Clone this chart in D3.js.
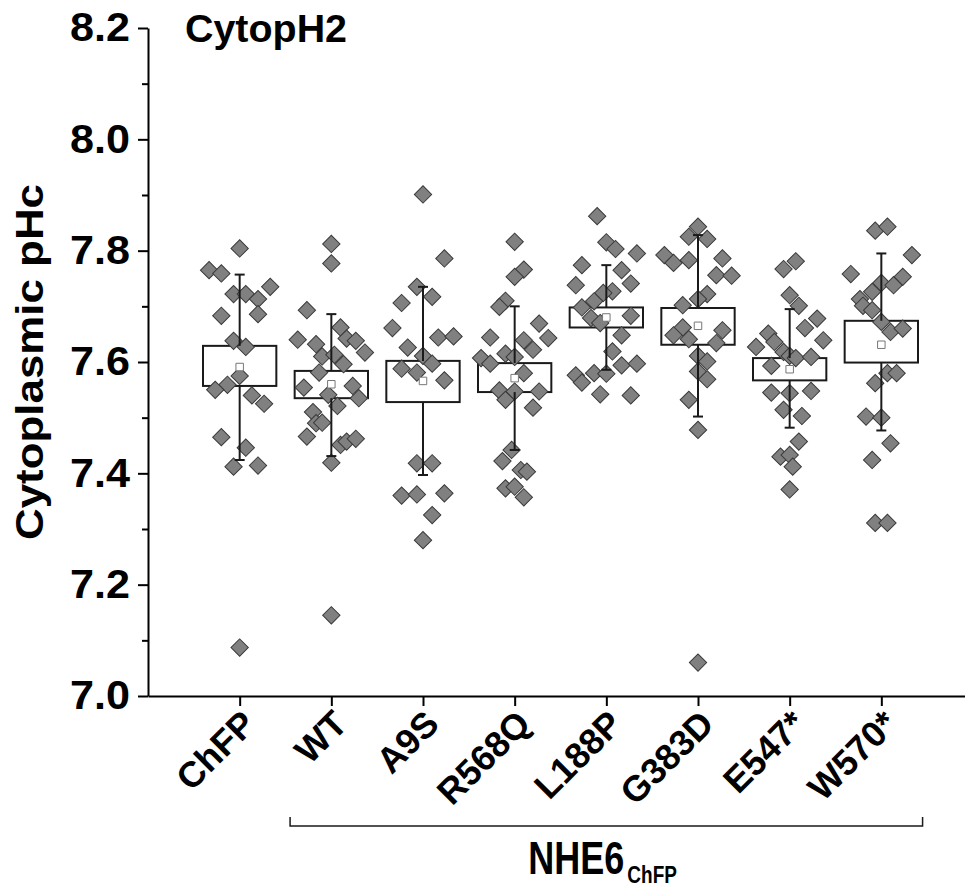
<!DOCTYPE html>
<html>
<head>
<meta charset="utf-8">
<script src="https://cdn.jsdelivr.net/npm/d3@7/dist/d3.min.js"></script>
<style>
    body { margin: 0; background: #fff; }
    text { font-family: "Liberation Sans", Arial, sans-serif; font-weight: bold; fill: #000; }
</style>
</head>
<body>
<div id="chart"></div>
<script>
// groups along the x axis
var groups = ["ChFP", "WT", "A9S", "R568Q", "L188P", "G383D", "E547*", "W570*"]

// box statistics
var q1 = [7.557, 7.535, 7.528, 7.546, 7.662, 7.631, 7.567, 7.599]
var q3 = [7.629, 7.584, 7.602, 7.598, 7.698, 7.697, 7.607, 7.674]
var whiskLo = [7.424, 7.431, 7.397, 7.442, 7.586, 7.502, 7.482, 7.477]
var whiskHi = [7.757, 7.686, 7.735, 7.700, 7.774, 7.828, 7.695, 7.795]
var means = [7.591, 7.560, 7.566, 7.571, 7.680, 7.665, 7.587, 7.631]

// single cells: [pHc, jitter slot]
var chfpPts = [[7.804, 0], [7.765, -5], [7.759, -3], [7.735, 5], [7.722, -1], [7.722, 1], [7.713, 3],
    [7.683, -3], [7.686, 3], [7.638, -1], [7.627, 1], [7.575, 0], [7.559, -2], [7.550, -4],
    [7.540, 2], [7.525, 4], [7.465, -3], [7.446, 1], [7.412, -1], [7.414, 3], [7.087, 0]]
var wtPts = [[7.812, 0], [7.777, 0], [7.693, -4], [7.662, 1.5], [7.640, -5.5], [7.632, -2.5],
    [7.642, 2.5], [7.638, 4], [7.617, 5.5], [7.610, -1.5], [7.613, 0.5], [7.596, 2], [7.581, -2],
    [7.554, -4.5], [7.557, 3.5], [7.535, 4.5], [7.541, -0.5], [7.521, 1], [7.510, -3], [7.490, -2.5],
    [7.491, -1.5], [7.466, -4], [7.451, 1.5], [7.457, 2.5], [7.462, 4], [7.419, 0], [7.145, 0]]
var a9sPts = [[7.901, 0], [7.786, 3.5], [7.735, -1], [7.717, 1.5], [7.706, -3.5], [7.661, -5],
    [7.644, 2.5], [7.646, 5], [7.626, -2.5], [7.611, 0], [7.597, 1.5], [7.588, -3.5], [7.581, -1],
    [7.567, 3.5], [7.418, -1], [7.418, 1.5], [7.360, -3.5], [7.362, -1], [7.364, 3.5], [7.325, 1.5],
    [7.280, 0]]
var r568qPts = [[7.816, 0], [7.766, 1.5], [7.753, 0], [7.710, -1.5], [7.699, -2.5], [7.669, 4],
    [7.644, -4], [7.643, 5.5], [7.639, 1.5], [7.622, 3], [7.615, -1.5], [7.609, 0], [7.607, -5.5],
    [7.597, -4], [7.580, 1.5], [7.549, -2.5], [7.547, 0], [7.547, 4], [7.532, -1.5], [7.518, 3],
    [7.442, -0.5], [7.422, -2], [7.406, 1], [7.403, 2], [7.373, -1.5], [7.376, 0], [7.357, 1.5]]
var l188pPts = [[7.862, -1.5], [7.815, 0], [7.803, 1.5], [7.795, 5], [7.774, -4], [7.765, 2.5],
    [7.741, 4], [7.738, -5], [7.727, 1], [7.724, -0.5], [7.709, -2], [7.698, -4], [7.679, -2.5],
    [7.670, -1], [7.683, 4], [7.648, 2.5], [7.619, 1], [7.576, -5], [7.563, -4], [7.580, -2],
    [7.594, 2.5], [7.579, 0], [7.542, -1], [7.540, 4], [7.597, 5]]
var g383dPts = [[7.843, 0], [7.825, -1.5], [7.821, 1.5], [7.792, -5.5], [7.778, -4], [7.783, -1.5],
    [7.786, 4], [7.756, 3], [7.755, 5.5], [7.722, 1.5], [7.713, 0], [7.702, -2.5], [7.662, -2.5],
    [7.648, -4], [7.641, -1.5], [7.657, 4], [7.634, 3], [7.611, 0], [7.601, 1.5], [7.583, 0],
    [7.569, 1.5], [7.532, -1.5], [7.478, 0], [7.060, 0]]
var e547Pts = [[7.781, 1], [7.767, -1], [7.720, 0], [7.701, 1.5], [7.678, 4.5], [7.661, 2.5],
    [7.639, 5.5], [7.651, -3.5], [7.627, -5.5], [7.636, -2.5], [7.618, -1], [7.611, 0], [7.607, 1],
    [7.609, 3.5], [7.593, -3], [7.545, -3], [7.544, 0], [7.548, 3.5], [7.514, -1], [7.503, 2],
    [7.457, 1.5], [7.430, -1.5], [7.433, 0], [7.412, 0.5], [7.371, 0]]
var w570Pts = [[7.836, -1], [7.843, 1], [7.792, 5], [7.758, -5], [7.753, 3.5], [7.742, 0],
    [7.738, 2], [7.726, -1.5], [7.713, -3.5], [7.701, -3], [7.693, -1.5], [7.672, 0], [7.654, 1.5],
    [7.660, 3.5], [7.580, 1], [7.580, 2.5], [7.562, -1], [7.502, -2.5], [7.500, 0], [7.454, 1.5],
    [7.424, -1.5], [7.311, -1], [7.311, 1]]

var allPts = [chfpPts, wtPts, a9sPts, r568qPts, l188pPts, g383dPts, e547Pts, w570Pts]

var majorTicks = [7.0, 7.2, 7.4, 7.6, 7.8, 8.0, 8.2]
var minorTicks = [7.1, 7.3, 7.5, 7.7, 7.9, 8.1]

var chartTitle = "CytopH2"
var yTitle = "Cytoplasmic pHc"
var groupLabel = "NHE6"
var groupSub = "ChFP"

;(function () {
    var width = 965,
        height = 892

    var svg = d3.select("#chart")
        .append("svg")
        .attr("width", width)
        .attr("height", height)

    var y = d3.scaleLinear().domain([7.0, 8.2]).range([696, 28])
    var x = d3.scaleLinear().domain([0, 9]).range([148, 973])
    var step = x(1) - x(0)
    var slotW = step / 15
    var boxW = step * 0.8

    // axes
    var yAxis = svg.append("g")
        .attr("transform", "translate(" + x(0) + ",0)")
        .call(d3.axisLeft(y).tickValues(majorTicks).tickSize(10).tickSizeOuter(0)
            .tickPadding(8).tickFormat(d3.format(".1f")))
    yAxis.select(".domain").attr("stroke-width", 2)
    yAxis.selectAll(".tick line").attr("stroke-width", 2)
    yAxis.selectAll(".tick text")
        .attr("font-size", 40)
        .attr("font-family", null)
        .attr("textLength", 60)
        .attr("lengthAdjust", "spacingAndGlyphs")

    svg.append("g")
        .attr("transform", "translate(" + x(0) + ",0)")
        .call(d3.axisLeft(y).tickValues(minorTicks).tickSize(6).tickSizeOuter(0).tickFormat(""))
        .call(function (g) { g.select(".domain").remove() })
        .selectAll(".tick line").attr("stroke-width", 2)

    var xAxis = svg.append("g")
        .attr("transform", "translate(0," + y(7.0) + ")")
        .call(d3.axisBottom(x).tickValues(d3.range(1, 9)).tickSize(10).tickSizeOuter(0).tickFormat(""))
    xAxis.select(".domain").attr("stroke-width", 2)
    xAxis.selectAll(".tick line").attr("stroke-width", 2)

    svg.selectAll(".xlabel")
        .data(groups)
        .enter().append("text")
        .attr("class", "xlabel")
        .attr("text-anchor", "end")
        .attr("font-size", 36)
        .attr("transform", function (d, i) {
            return "translate(" + (x(i + 1) + 18) + "," + (y(7.0) + 30) + ") rotate(-45)"
        })
        .text(function (d) { return d })

    // boxes
    var g = svg.selectAll(".grp")
        .data(groups)
        .enter().append("g")
        .attr("class", "grp")

    g.append("rect")
        .attr("x", function (d, i) { return x(i + 1) - boxW / 2 })
        .attr("width", boxW)
        .attr("y", function (d, i) { return y(q3[i]) })
        .attr("height", function (d, i) { return y(q1[i]) - y(q3[i]) })
        .attr("fill", "#fff")
        .attr("stroke", "#1a1a1a")
        .attr("stroke-width", 2)

    var diamond = d3.symbol().type(d3.symbolSquare).size(150)

    g.each(function (d, i) {
        d3.select(this).selectAll(".pt")
            .data(allPts[i])
            .enter().append("path")
            .attr("class", "pt")
            .attr("d", diamond)
            .attr("transform", function (p) {
                return "translate(" + (x(i + 1) + p[1] * slotW) + "," + y(p[0]) + ") rotate(45)"
            })
            .attr("fill", "#808080")
            .attr("stroke", "#3a3a3a")
            .attr("stroke-width", 1)
    })

    // whiskers
    g.append("line")
        .attr("x1", function (d, i) { return x(i + 1) })
        .attr("x2", function (d, i) { return x(i + 1) })
        .attr("y1", function (d, i) { return y(q3[i]) })
        .attr("y2", function (d, i) { return y(whiskHi[i]) })
    g.append("line")
        .attr("x1", function (d, i) { return x(i + 1) })
        .attr("x2", function (d, i) { return x(i + 1) })
        .attr("y1", function (d, i) { return y(q1[i]) })
        .attr("y2", function (d, i) { return y(whiskLo[i]) })
    g.append("line")
        .attr("x1", function (d, i) { return x(i + 1) - 5 })
        .attr("x2", function (d, i) { return x(i + 1) + 5 })
        .attr("y1", function (d, i) { return y(whiskHi[i]) })
        .attr("y2", function (d, i) { return y(whiskHi[i]) })
    g.append("line")
        .attr("x1", function (d, i) { return x(i + 1) - 5 })
        .attr("x2", function (d, i) { return x(i + 1) + 5 })
        .attr("y1", function (d, i) { return y(whiskLo[i]) })
        .attr("y2", function (d, i) { return y(whiskLo[i]) })
    g.selectAll("line")
        .attr("stroke", "#1a1a1a")
        .attr("stroke-width", 2)

    g.append("path")
        .attr("d", d3.symbol().type(d3.symbolSquare).size(56))
        .attr("transform", function (d, i) {
            return "translate(" + x(i + 1) + "," + y(means[i]) + ")"
        })
        .attr("fill", "#fff")
        .attr("stroke", "#777")
        .attr("stroke-width", 1)

    // titles
    svg.append("text")
        .attr("x", 185)
        .attr("y", 42)
        .attr("font-size", 38)
        .attr("textLength", 162)
        .attr("lengthAdjust", "spacingAndGlyphs")
        .text(chartTitle)

    svg.append("text")
        .attr("transform", "translate(43," + y(7.6) + ") rotate(-90)")
        .attr("text-anchor", "middle")
        .attr("font-size", 38)
        .attr("textLength", 356)
        .attr("lengthAdjust", "spacingAndGlyphs")
        .text(yTitle)

    // NHE6 bracket
    var bx0 = x(1.55),
        bx1 = x(8.45),
        by = 826
    svg.append("path")
        .attr("d", "M" + bx0 + "," + (by - 9) + "V" + by + "H" + bx1 + "V" + (by - 9))
        .attr("fill", "none")
        .attr("stroke", "#1a1a1a")
        .attr("stroke-width", 1.5)

    // tall, narrow group label: natural widths, stretched vertically
    var mid = (bx0 + bx1) / 2
    var lbl = svg.append("text")
        .attr("transform", "translate(" + (mid - 78) + ",874) scale(1,1.3)")
        .attr("font-size", 36)
    lbl.append("tspan")
        .text(groupLabel)
    lbl.append("tspan")
        .attr("dx", 3)
        .attr("dy", 7)
        .attr("font-size", 19)
        .text(groupSub)
})();
</script>
</body>
</html>
